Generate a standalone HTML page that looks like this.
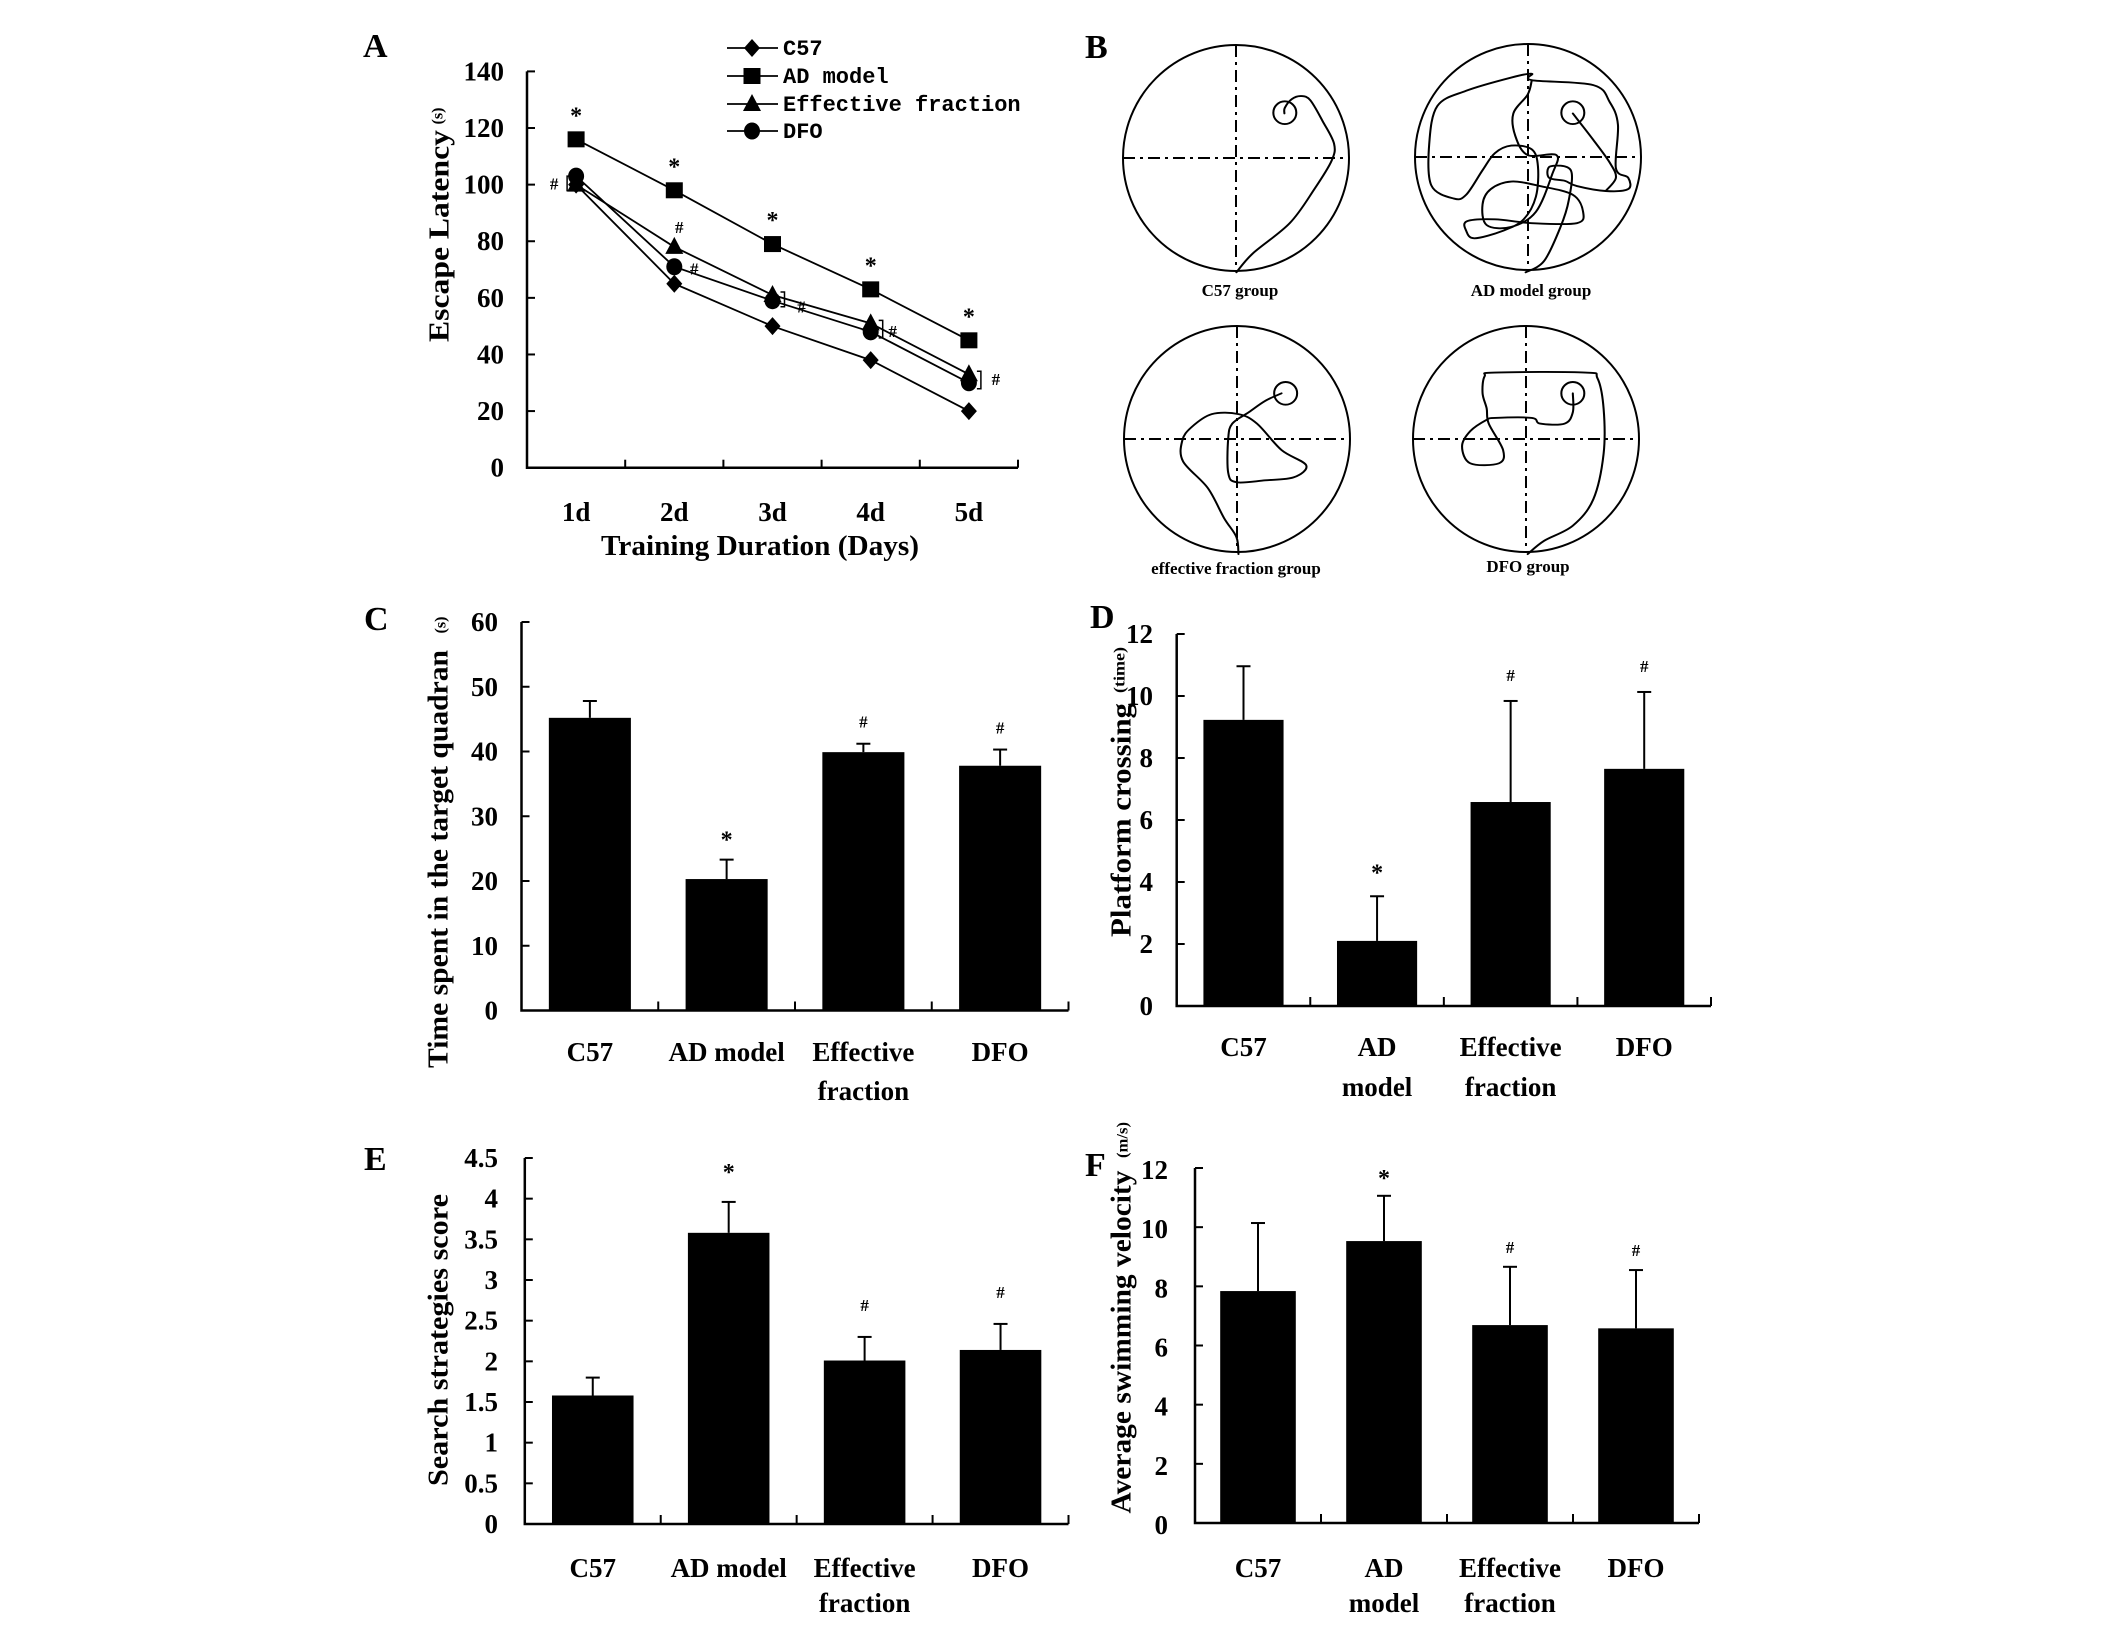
<!DOCTYPE html>
<html><head><meta charset="utf-8"><style>
html,body{margin:0;padding:0;background:#fff;}
svg{display:block;}
</style></head><body>
<svg id="fig" xmlns="http://www.w3.org/2000/svg" width="2126" height="1635" viewBox="0 0 2126 1635">
<rect x="0" y="0" width="2126" height="1635" fill="#fff"/>
<g id="panelB" fill="none" stroke="#000">
  <text x="1085" y="58" font-family="Liberation Serif, serif" font-weight="bold" font-size="34" fill="#000" stroke="none">B</text>
  <g>
    <circle cx="1236" cy="158" r="113" stroke-width="2"/>
    <line x1="1236" y1="45" x2="1236" y2="271" stroke-width="2" stroke-dasharray="12 5 3 5"/>
    <line x1="1123" y1="158" x2="1349" y2="158" stroke-width="2" stroke-dasharray="12 5 3 5"/>
    <text x="1240" y="296" text-anchor="middle" font-family="Liberation Serif, serif" font-weight="bold" font-size="17" fill="#000" stroke="none">C57 group</text>
  </g>
  <g>
    <circle cx="1528" cy="157" r="113" stroke-width="2"/>
    <line x1="1528" y1="44" x2="1528" y2="270" stroke-width="2" stroke-dasharray="12 5 3 5"/>
    <line x1="1415" y1="157" x2="1641" y2="157" stroke-width="2" stroke-dasharray="12 5 3 5"/>
    <text x="1531" y="296" text-anchor="middle" font-family="Liberation Serif, serif" font-weight="bold" font-size="17" fill="#000" stroke="none">AD model group</text>
  </g>
  <g>
    <circle cx="1237" cy="439" r="113" stroke-width="2"/>
    <line x1="1237" y1="326" x2="1237" y2="552" stroke-width="2" stroke-dasharray="12 5 3 5"/>
    <line x1="1124" y1="439" x2="1350" y2="439" stroke-width="2" stroke-dasharray="12 5 3 5"/>
    <text x="1236" y="574" text-anchor="middle" font-family="Liberation Serif, serif" font-weight="bold" font-size="17" fill="#000" stroke="none">effective fraction group</text>
  </g>
  <g>
    <circle cx="1526" cy="439" r="113" stroke-width="2"/>
    <line x1="1526" y1="326" x2="1526" y2="552" stroke-width="2" stroke-dasharray="12 5 3 5"/>
    <line x1="1413" y1="439" x2="1639" y2="439" stroke-width="2" stroke-dasharray="12 5 3 5"/>
    <text x="1528" y="572" text-anchor="middle" font-family="Liberation Serif, serif" font-weight="bold" font-size="17" fill="#000" stroke="none">DFO group</text>
  </g>
  <g id="tracks" transform="translate(1060,0) scale(0.41026,0.37821)" stroke-width="5" stroke-linejoin="round" stroke-linecap="round"></g>
</g>
</svg>
<script>
// ---------- Panel A data ----------
const daysA = ["1d","2d","3d","4d","5d"];
const ticksA = [0,20,40,60,80,100,120,140];
const c57A = [100,65,50,38,20];
const adA = [116,98,79,63,45];
const efA = [100,78,61,51,33];
const dfoA = [103,71,59,48,30];

// ---------- Panel C data ----------
const groupsC = [["C57"],["AD model"],["Effective","fraction"],["DFO"]];
const ticksC = [0,10,20,30,40,50,60];
const meanC = [45.2,20.3,39.9,37.8];
const errC = [2.6,3.0,1.3,2.5];
const markC = ["","*","#","#"];

// ---------- Panel D data ----------
const groupsD = [["C57"],["AD","model"],["Effective","fraction"],["DFO"]];
const ticksD = [0,2,4,6,8,10,12];
const meanD = [9.23,2.1,6.58,7.65];
const errD = [1.73,1.44,3.26,2.48];
const markD = ["","*","#","#"];

// ---------- Panel E data ----------
const groupsE = [["C57"],["AD model"],["Effective","fraction"],["DFO"]];
const ticksE = [0,0.5,1,1.5,2,2.5,3,3.5,4,4.5];
const meanE = [1.58,3.58,2.01,2.14];
const errE = [0.22,0.38,0.29,0.32];
const markE = ["","*","#","#"];

// ---------- Panel F data ----------
const groupsF = [["C57"],["AD","model"],["Effective","fraction"],["DFO"]];
const ticksF = [0,2,4,6,8,10,12];
const meanF = [7.84,9.53,6.69,6.58];
const errF = [2.3,1.53,1.97,1.97];
const markF = ["","*","#","#"];

const NS = "http://www.w3.org/2000/svg";
const SERIF = "'Liberation Serif', 'DejaVu Serif', serif";
const svg = document.getElementById('fig');

function mk(tag, attrs, parent){
  const el = document.createElementNS(NS, tag);
  for (const k in attrs) el.setAttribute(k, attrs[k]);
  (parent || svg).appendChild(el);
  return el;
}
function txt(parent, x, y, s, size, anchor){
  const t = mk('text', {x:x, y:y, 'font-family':SERIF, 'font-weight':'bold', 'font-size':size, 'text-anchor':anchor||'middle', fill:'#000'}, parent);
  t.textContent = s;
  return t;
}
function vtitle(parent, cx, cy, s, size, len){
  const g = mk('g', {transform:'translate('+cx+','+cy+') rotate(-90)'}, parent);
  const t = mk('text', {x:0, y:size*0.33, 'font-family':SERIF, 'font-weight':'bold', 'font-size':size, 'text-anchor':'middle', fill:'#000', textLength:len, lengthAdjust:'spacingAndGlyphs'}, g);
  t.textContent = s;
  return t;
}

// ================= Panel A =================
(function(){
  const g = mk('g', {});
  
  
  const x0 = 527, x1 = 1018, y0 = 467.7, yT = 71.4, maxV = 140;
  const band = (x1 - x0) / daysA.length;
  const xA = i => x0 + band * (i + 0.5);
  const yA = v => y0 - (v / maxV) * (y0 - yT);

  const lab = txt(g, 363, 57, 'A', 34, 'start');
  
  

  const ax = mk('path', {d:'M'+x0+','+yT+' V'+y0+' H'+x1, fill:'none', stroke:'#000', 'stroke-width':2.5}, g);
  
  

  ticksA.forEach(v => {
    const tk = mk('line', {x1:x0, x2:x0+8, y1:yA(v), y2:yA(v), stroke:'#000', 'stroke-width':2}, g);
    
    
    const tl = txt(g, 504, yA(v)+9, String(v), 27, 'end');
    
    
  });
  for (let i = 1; i <= daysA.length; i++){
    const xx = x0 + band * i;
    const tk = mk('line', {x1:xx, x2:xx, y1:y0, y2:y0-8, stroke:'#000', 'stroke-width':2}, g);
    
    
  }
  daysA.forEach((d, i) => {
    const tl = txt(g, xA(i), 521, d, 27, 'middle');
    
    
  });
  const xt = txt(g, 760, 555, 'Training Duration (Days)', 28, 'middle');
  xt.setAttribute('textLength', 318);
  xt.setAttribute('lengthAdjust', 'spacingAndGlyphs');
  
  
  const yt = vtitle(g, 439, 236, 'Escape Latency', 28, 212);
  
  
  const yu = vtitle(g, 437, 116, '(s)', 16, 17);
  
  

  function marker(parent, type, cx, cy){
    let el;
    if (type === 'diamond') el = mk('polygon', {points:[cx,cy-9, cx+8,cy, cx,cy+9, cx-8,cy].join(' '), fill:'#000'}, parent);
    else if (type === 'square') el = mk('rect', {x:cx-8.5, y:cy-8, width:17, height:16, fill:'#000'}, parent);
    else if (type === 'triangle') el = mk('polygon', {points:[cx,cy-10, cx+9,cy+7, cx-9,cy+7].join(' '), fill:'#000'}, parent);
    else el = mk('ellipse', {cx:cx, cy:cy, rx:8, ry:8.5, fill:'#000'}, parent);
    return el;
  }
  const series = [
    {name:'c57', vals:c57A, m:'diamond'},
    {name:'ad-model', vals:adA, m:'square'},
    {name:'effective-fraction', vals:efA, m:'triangle'},
    {name:'dfo', vals:dfoA, m:'circle'}
  ];
  series.forEach(s => {
    const sg = mk('g', {}, g);
    
    
    const pl = mk('polyline', {points:s.vals.map((v,i)=>xA(i)+','+yA(v)).join(' '), fill:'none', stroke:'#000', 'stroke-width':1.8}, sg);
    
    
    s.vals.forEach((v,i) => {
      const mm = marker(sg, s.m, xA(i), yA(v));
      
      
    });
  });
  adA.forEach((v,i) => {
    const st = txt(g, xA(i), yA(v) - 16, '*', 24, 'middle');
    
    
  });
  const hashes = [
    [xA(0)-22, yA(efA[0])+5],
    [xA(1)+5, yA(efA[1])-14],
    [xA(1)+20, yA(dfoA[1])+8],
    [xA(2)+29, yA(dfoA[2])+12],
    [xA(3)+22, yA(dfoA[3])+5],
    [xA(4)+27, yA(dfoA[4])+2]
  ];
  hashes.forEach(p => {
    const h = txt(g, p[0], p[1], '#', 17, 'middle');
    
    
  });
  const brackets = [
    [xA(0)-9, yA(dfoA[0]), yA(c57A[0])+6, -1],
    [xA(2)+12, yA(efA[2])-3, yA(dfoA[2])+6, 1],
    [xA(3)+12, yA(efA[3])-3, yA(dfoA[3])+6, 1],
    [xA(4)+12, yA(efA[4])-3, yA(dfoA[4])+6, 1]
  ];
  brackets.forEach(b => {
    const d = 'M'+(b[0]-4*b[3])+','+b[1]+' H'+b[0]+' V'+b[2]+' H'+(b[0]-4*b[3]);
    const br = mk('path', {d:d, fill:'none', stroke:'#000', 'stroke-width':1.5}, g);
    
    
  });
  const legendNames = ['C57','AD model','Effective fraction','DFO'];
  const legendRows = [48,76,104,131];
  const lg = mk('g', {}, g);
  
  
  series.forEach((s,i) => {
    const eg = mk('g', {}, lg);
    
    
    const y = legendRows[i];
    const ln = mk('line', {x1:727, x2:778, y1:y, y2:y, stroke:'#000', 'stroke-width':1.8}, eg);
    
    
    const mm = marker(eg, s.m, 752, y);
    
    
    const t = mk('text', {x:783, y:y+7, 'font-family':"'Liberation Mono', 'DejaVu Sans Mono', monospace", 'font-weight':'bold', 'font-size':22, fill:'#000'}, eg);
    t.textContent = legendNames[i];
    
    
  });
})();

// ================= Bar charts =================
function barChart(cfg, groups, ticks, means, errs, marks){
  const g = mk('g', {});
  
  
  const n = groups.length;
  const band = (cfg.x1 - cfg.x0) / n;
  const xS = i => cfg.x0 + band * (i + 0.5);
  const yS = v => cfg.y0 - (v / cfg.max) * (cfg.y0 - cfg.yT);
  const bw = band * 0.6;

  const pl = txt(g, cfg.lx, cfg.ly, cfg.letter, 34, 'start');
  
  

  means.forEach((m, i) => {
    const top = yS(m + errs[i]);
    const el = mk('line', {x1:xS(i), x2:xS(i), y1:yS(m), y2:top, stroke:'#000', 'stroke-width':2}, g);
    
    
    const cap = mk('line', {x1:xS(i)-7, x2:xS(i)+7, y1:top, y2:top, stroke:'#000', 'stroke-width':2}, g);
    
    
    const bar = mk('rect', {x:xS(i)-bw/2, y:yS(m), width:bw, height:cfg.y0 - yS(m), fill:'#000'}, g);
    
    
    if (marks[i]){
      const isStar = marks[i] === '*';
      const mt = txt(g, xS(i), top - cfg.markOff + (isStar ? 10 : 6), marks[i], isStar ? 24 : 17, 'middle');
      
      
    }
  });
  const ax = mk('path', {d:'M'+cfg.x0+','+cfg.yT+' V'+cfg.y0+' H'+cfg.x1, fill:'none', stroke:'#000', 'stroke-width':2.5}, g);
  
  
  ticks.forEach(v => {
    const tk = mk('line', {x1:cfg.x0, x2:cfg.x0+8, y1:yS(v), y2:yS(v), stroke:'#000', 'stroke-width':2}, g);
    
    
    const tl = txt(g, cfg.labelRight, yS(v)+9 + (cfg.tickShift||0), String(v), 27, 'end');
    
    
  });
  for (let i = 1; i <= n; i++){
    const xx = cfg.x0 + band * i;
    const tk = mk('line', {x1:xx, x2:xx, y1:cfg.y0, y2:cfg.y0-9, stroke:'#000', 'stroke-width':2}, g);
    
    
  }
  groups.forEach((lines, i) => {
    lines.forEach((s, j) => {
      const tl = txt(g, xS(i), j === 0 ? cfg.lab1 : cfg.lab2, s, 27, 'middle');
      
      
    });
  });
  const yt = vtitle(g, cfg.tx, cfg.ty, cfg.title, 28, cfg.tlen);
  
  
  if (cfg.unit){
    const yu = vtitle(g, cfg.ux, cfg.uy, cfg.unit, 16, cfg.ulen);
    
    
  }
}

barChart({name:'panel-c-time-in-target-quadrant', letter:'C', lx:364, ly:630, x0:521.5, x1:1068.5, y0:1010.5, yT:622, max:60,
  labelRight:498, lab1:1061, lab2:1100, markOff:22, title:'Time spent in the target quadran', tx:438, ty:859, tlen:418,
  unit:'(s)', ux:440, uy:625, ulen:17}, groupsC, ticksC, meanC, errC, markC);

barChart({name:'panel-d-platform-crossing', letter:'D', lx:1090, ly:628, x0:1176.7, x1:1711, y0:1006, yT:634, max:12,
  labelRight:1153, lab1:1056, lab2:1096, markOff:26, title:'Platform crossing', tx:1121, ty:820, tlen:234,
  unit:'(time)', ux:1119, uy:670, ulen:46}, groupsD, ticksD, meanD, errD, markD);

barChart({name:'panel-e-search-strategies', letter:'E', lx:364, ly:1170, x0:524.8, x1:1068.5, y0:1524, yT:1158, max:4.5,
  labelRight:498, lab1:1577, lab2:1612, markOff:32, title:'Search strategies score', tx:438, ty:1340, tlen:292}, groupsE, ticksE, meanE, errE, markE);

barChart({name:'panel-f-swimming-velocity', letter:'F', lx:1085, ly:1176, x0:1195, x1:1699, y0:1523, yT:1168, max:12,
  labelRight:1168, lab1:1577, lab2:1612, markOff:20, tickShift:2, title:'Average swimming velocity', tx:1121, ty:1342, tlen:343,
  unit:'(m/s)', ux:1122, uy:1140, ulen:36}, groupsF, ticksF, meanF, errF, markF);

// ================= Panel B tracks (trajectory drawings, zoom-space coords) =================
const trackC57 = [[430,720],[470,670],[560,590],[620,500],[662,425],[668,380],[640,320],[610,265],[588,254],[565,262],[548,285],[547,300]];
const trackAD = [[1135,720],[1180,690],[1220,600],[1240,530],[1245,450],[1195,440],[1192,470],[1230,478],[1260,492],[1330,505],[1385,500],[1385,470],[1355,445],[1360,330],[1340,270],[1300,225],[1150,212],[1150,195],[1100,205],[990,240],[920,280],[900,380],[905,490],[960,525],[990,515],[1030,450],[1060,405],[1100,385],[1150,395],[1165,440],[1160,520],[1130,580],[1080,610],[1010,630],[990,610],[992,585],[1060,580],[1150,590],[1260,590],[1275,560],[1250,515],[1170,492],[1100,480],[1050,500],[1030,540],[1040,595],[1100,600],[1160,560],[1200,460],[1210,410],[1140,410],[1110,360],[1105,300],[1140,250],[1150,212]];
const trackAD2 = [[1250,300],[1300,370],[1340,430],[1355,470],[1330,505]];
const trackEF = [[435,1465],[430,1420],[400,1370],[360,1290],[300,1220],[298,1165],[320,1130],[370,1095],[435,1095],[480,1120],[540,1190],[600,1230],[570,1262],[500,1270],[430,1275],[410,1250],[410,1160],[420,1120],[460,1090],[500,1060],[540,1040]];
const trackDFO = [[1140,1465],[1180,1430],[1250,1390],[1300,1320],[1325,1200],[1325,1080],[1310,1000],[1280,985],[1060,985],[1035,995],[1030,1040],[1040,1080],[1045,1120],[1080,1190],[1070,1225],[1000,1225],[980,1180],[1000,1140],[1040,1110],[1060,1105],[1150,1105],[1170,1120],[1230,1120],[1250,1090],[1250,1040]];
const platforms = [[548,298],[1250,298],[550,1040],[1250,1040]];
(function(){
  const tg = document.getElementById('tracks');
  function smooth(pts){
    let d = 'M' + pts[0][0] + ',' + pts[0][1];
    for (let i = 0; i < pts.length - 1; i++){
      const p0 = pts[i-1] || pts[i], p1 = pts[i], p2 = pts[i+1], p3 = pts[i+2] || p2;
      const c1 = [p1[0] + (p2[0]-p0[0])/6, p1[1] + (p2[1]-p0[1])/6];
      const c2 = [p2[0] - (p3[0]-p1[0])/6, p2[1] - (p3[1]-p1[1])/6];
      d += ' C' + c1.join(',') + ' ' + c2.join(',') + ' ' + p2.join(',');
    }
    return d;
  }
  [[trackC57,'track-c57'],[trackAD,'track-ad-model'],[trackAD2,'track-ad-model-end'],[trackEF,'track-effective-fraction'],[trackDFO,'track-dfo']].forEach(t => {
    const p = mk('path', {d:smooth(t[0])}, tg);
    
    
  });
  platforms.forEach(p => {
    const c = mk('ellipse', {cx:p[0], cy:p[1], rx:28, ry:30}, tg);
    
    
  });
})();
</script>
</body></html>
